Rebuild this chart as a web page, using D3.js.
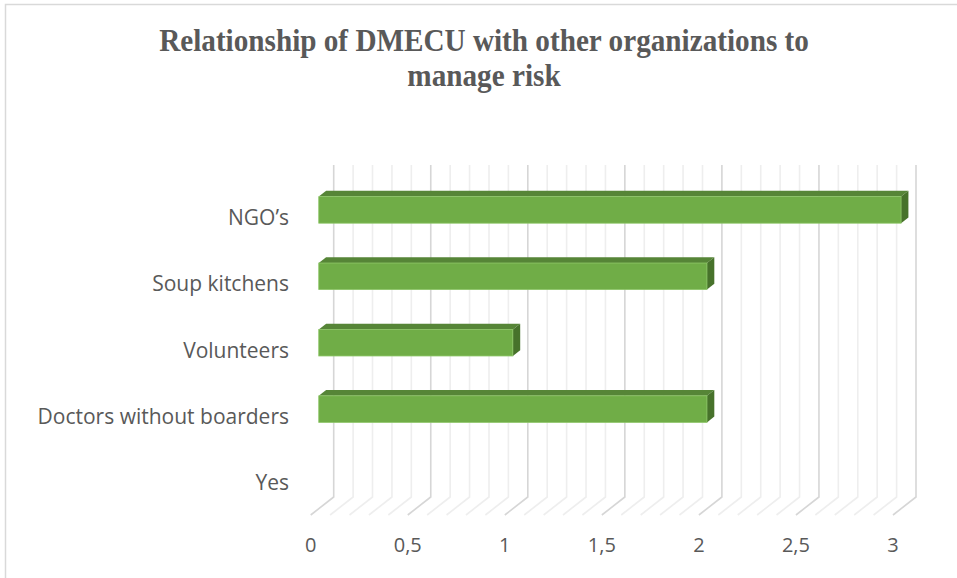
<!DOCTYPE html>
<html>
<head>
<meta charset="utf-8">
<script src="https://cdn.jsdelivr.net/npm/d3@7"></script>
<style>
  html, body { margin: 0; padding: 0; background: #fff; }
  svg { display: block; }
</style>
</head>
<body>
<svg id="chart" width="957" height="578"></svg>
<script>
// Chart data
const categories = ["NGO\u2019s", "Soup kitchens", "Volunteers", "Doctors without boarders", "Yes"];
const values = [3, 2, 1, 2, 0];
const tickValues = [0, 0.5, 1, 1.5, 2, 2.5, 3];
const tickLabels = ["0", "0,5", "1", "1,5", "2", "2,5", "3"];
const titleLines = ["Relationship of DMECU with other organizations to", "manage risk"];

const svg = d3.select("#chart");
const W = 957, H = 578;

// Chart frame
svg.append("rect")
  .attr("x", 5.5).attr("y", 4.5)
  .attr("width", W + 10).attr("height", H + 10)
  .attr("fill", "#fff").attr("stroke", "#d9d9d9").attr("stroke-width", 1.5);

// Front floor plane scales; the back wall is offset by the depth vector
const x = d3.scaleLinear().domain([0, 3]).range([310.7, 893]);
const y = d3.scaleBand().domain(categories).range([183, 515])
  .paddingInner(0.6).paddingOuter(0.3);
const depth = { dx: 23, dy: -18 };
const wallTop = 165, floorFront = 515, floorBack = floorFront + depth.dy;
const barFront = 0.35, barBack = 0.67;   // bar position within the depth

// Gridlines: back wall verticals plus floor diagonals, minor every 0.1
const gridVals = d3.range(0, 31).map(i => i / 10);
const grid = svg.append("g");
gridVals.forEach((v, i) => {
  const major = i % 5 === 0;
  const col = major ? "#d6d6d6" : "#eeeeee";
  const xb = x(v) + depth.dx;
  grid.append("path")
    .attr("d", `M${xb},${wallTop}V${floorBack}L${x(v)},${floorFront}`)
    .attr("fill", "none").attr("stroke", col).attr("stroke-width", 1.6);
});

// 3D bars
const bars = svg.append("g");
categories.forEach((c, i) => {
  const v = values[i];
  if (v <= 0) return;
  const fx = depth.dx * barFront, fy = depth.dy * barFront;
  const bx = depth.dx * barBack, by = depth.dy * barBack;
  const x0 = x(0), x1 = x(v);
  const yt = y(c), yb = y(c) + y.bandwidth();
  const g = bars.append("g");
  // top face
  g.append("path")
    .attr("d", `M${x0 + fx},${yt + fy}L${x1 + fx},${yt + fy}L${x1 + bx},${yt + by}L${x0 + bx},${yt + by}Z`)
    .attr("fill", "#568537");
  // right side face
  g.append("path")
    .attr("d", `M${x1 + fx},${yt + fy}L${x1 + bx},${yt + by}L${x1 + bx},${yb + by}L${x1 + fx},${yb + fy}Z`)
    .attr("fill", "#47722b");
  // front face
  g.append("rect")
    .attr("x", x0 + fx).attr("y", yt + fy)
    .attr("width", x1 - x0).attr("height", yb - yt)
    .attr("fill", "#70ad47").attr("stroke", "#8cc566").attr("stroke-width", 0.8);
});

// Category labels
svg.append("g").selectAll("text").data(categories).join("text")
  .attr("x", 289)
  .attr("y", d => y(d) + y.bandwidth() / 2 + 8.5)
  .attr("text-anchor", "end")
  .attr("font-family", "'Open Sans', sans-serif")
  .attr("font-size", 21)
  .attr("fill", "#595959")
  .text(d => d);

// Value axis labels
svg.append("g").selectAll("text").data(tickValues).join("text")
  .attr("x", d => x(d))
  .attr("y", 552)
  .attr("text-anchor", "middle")
  .attr("font-family", "'Open Sans', sans-serif")
  .attr("font-size", 20)
  .attr("fill", "#595959")
  .text((d, i) => tickLabels[i]);

// Title
const tg = svg.append("g");
const t = tg.selectAll("text").data(titleLines).join("text")
  .attr("x", 484)
  .attr("y", (d, i) => 51 + i * 35)
  .attr("text-anchor", "middle")
  .attr("font-family", "'Liberation Serif', 'Times New Roman', serif")
  .attr("font-weight", "bold")
  .attr("font-size", 31.5)
  .attr("fill", "#595959")
  .text(d => d);
const w1 = t.nodes()[0].getComputedTextLength();
const sx = 650 / w1;
tg.attr("transform", `translate(${484 * (1 - sx)},0) scale(${sx},1)`);
</script>
</body>
</html>
